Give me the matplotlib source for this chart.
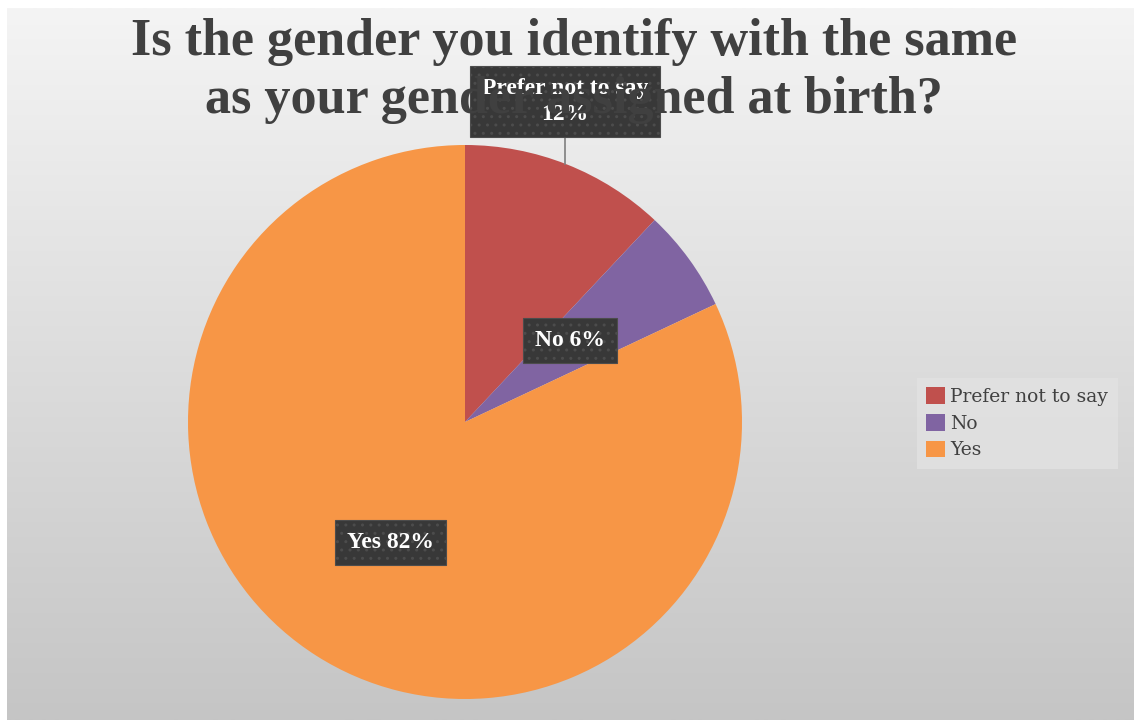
import matplotlib.pyplot as plt
import numpy as np
from matplotlib.colors import LinearSegmentedColormap

labels = ["Prefer not to say", "No", "Yes"]
values = [12, 6, 82]
colors = ["#c0504d", "#8064a2", "#f79646"]
# where each data label box sits, in units of the pie radius
label_pos = [(0.361, 1.157), (0.38, 0.295), (-0.27, -0.435)]
label_txt = ["Prefer not to say\n12%", "No 6%", "Yes 82%"]

plt.rcParams["hatch.color"] = "#4c4c4c"
plt.rcParams["hatch.linewidth"] = 1.0

fig = plt.figure(figsize=(11.34, 7.2), dpi=100)
fig.patch.set_facecolor("white")

# grey gradient background of the chart area
bg = fig.add_axes([7 / 1134, 0, 1 - 7 / 1134, 1 - 8 / 720])
grad = np.linspace(0, 1, 256).reshape(-1, 1)
bg.imshow(grad, aspect="auto", cmap=LinearSegmentedColormap.from_list("g", ["#f4f4f4", "#c5c5c5"]),
          extent=[0, 1, 0, 1], origin="upper")
bg.set_axis_off()

fig.text(0.506, 0.975, "Is the gender you identify with the same\nas your gender assigned at birth?",
         ha="center", va="top", fontsize=37.5, fontweight="bold", family="Liberation Serif",
         color="#404040", linespacing=1.27)

ax = fig.add_axes([188 / 1134, 21 / 720, 554 / 1134, 554 / 720])
wedges, _ = ax.pie(values, colors=colors, startangle=90, counterclock=False,
                   radius=1, center=(0, 0), frame=True)
ax.set_xlim(-1, 1)
ax.set_ylim(-1, 1)
ax.set_aspect("equal")
ax.set_axis_off()

# leader line for the small top slice
ax.plot([0.361, 0.361], [1.03, 0.933], color="#7f7f7f", lw=1.2, clip_on=False)

for (x, y), t in zip(label_pos, label_txt):
    ax.text(x, y, t, ha="center", va="center", fontsize=17, fontweight="bold",
            family="Liberation Serif", color="white", linespacing=1.35, clip_on=False,
            bbox=dict(boxstyle="square,pad=0.5", fc="#383838", ec="#4c4c4c", lw=0.8,
                      hatch="..", zorder=5), zorder=6)

leg = fig.legend(wedges, labels, loc="center left", bbox_to_anchor=(0.8, 0.412),
                 frameon=True, fancybox=False, handlelength=1.0, handleheight=1.0,
                 handletextpad=0.3, labelspacing=0.42, borderpad=0.5,
                 prop={"family": "DejaVu Serif", "size": 13.5})
leg.get_frame().set_facecolor("#e2e2e2")
leg.get_frame().set_edgecolor("none")
for t in leg.get_texts():
    t.set_color("#404040")

fig.savefig("out.png", dpi=100)
